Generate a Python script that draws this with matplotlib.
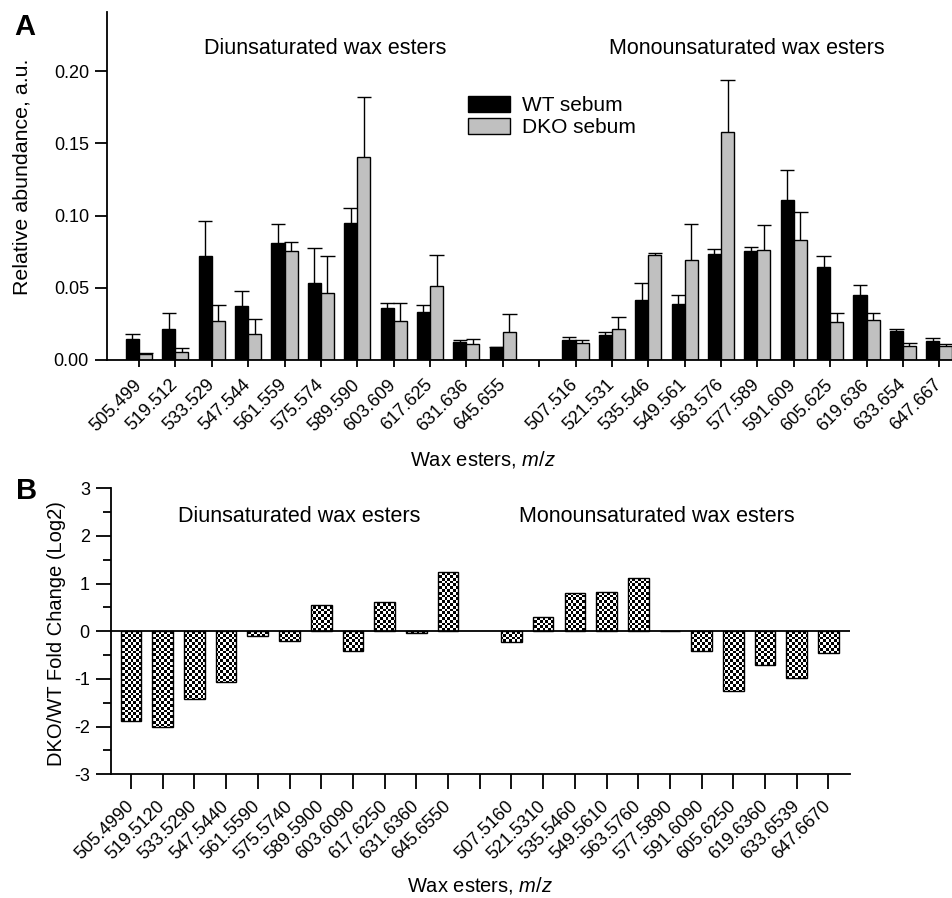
import matplotlib
matplotlib.use("Agg")
import matplotlib.pyplot as plt
import numpy as np
from matplotlib.path import Path
from matplotlib.ticker import MultipleLocator

plt.rcParams.update({
    "font.family": "Liberation Sans",
    "mathtext.fontset": "custom",
    "mathtext.rm": "Liberation Sans",
    "mathtext.it": "Liberation Sans:italic",
    "axes.linewidth": 1.3,
    "axes.unicode_minus": False,
})

# ---- panel A data ----
DI_LABELS = ["505.499", "519.512", "533.529", "547.544", "561.559", "575.574",
             "589.590", "603.609", "617.625", "631.636", "645.655"]
MONO_LABELS = ["507.516", "521.531", "535.546", "549.561", "563.576", "577.589",
               "591.609", "605.625", "619.636", "633.654", "647.667"]
WT_DI = [0.0143, 0.0217, 0.0720, 0.0374, 0.0810, 0.0535, 0.0950, 0.0360, 0.0332, 0.0122, 0.0088]
WT_DI_ERR = [0.0178, 0.0323, 0.0964, 0.0478, 0.0943, 0.0777, 0.1050, 0.0392, 0.0380, 0.0136, 0.0090]
DKO_DI = [0.0040, 0.0053, 0.0270, 0.0178, 0.0757, 0.0466, 0.1407, 0.0270, 0.0514, 0.0113, 0.0196]
DKO_DI_ERR = [0.0048, 0.0083, 0.0380, 0.0284, 0.0820, 0.0722, 0.1820, 0.0397, 0.0730, 0.0145, 0.0316]
WT_MONO = [0.0138, 0.0175, 0.0415, 0.0388, 0.0734, 0.0752, 0.1105, 0.0641, 0.0452, 0.0201, 0.0131]
WT_MONO_ERR = [0.0157, 0.0194, 0.0530, 0.0452, 0.0770, 0.0782, 0.1313, 0.0722, 0.0517, 0.0217, 0.0150]
DKO_MONO = [0.0120, 0.0212, 0.0724, 0.0690, 0.1580, 0.0763, 0.0833, 0.0265, 0.0277, 0.0099, 0.0095]
DKO_MONO_ERR = [0.0138, 0.0298, 0.0743, 0.0941, 0.1940, 0.0937, 0.1024, 0.0327, 0.0327, 0.0120, 0.0113]

# ---- panel B data ----
DI_LABELS_B = ["505.4990", "519.5120", "533.5290", "547.5440", "561.5590", "575.5740",
               "589.5900", "603.6090", "617.6250", "631.6360", "645.6550"]
MONO_LABELS_B = ["507.5160", "521.5310", "535.5460", "549.5610", "563.5760", "577.5890",
                 "591.6090", "605.6250", "619.6360", "633.6539", "647.6670"]
LOG2_DI = [-1.875, -2.01, -1.41, -1.06, -0.09, -0.20, 0.55, -0.41, 0.62, -0.03, 1.24]
LOG2_MONO = [-0.22, 0.29, 0.80, 0.82, 1.11, 0.0, -0.41, -1.25, -0.71, -0.99, -0.46]

W, H = 952, 898
GRAY = "#c0c0c0"


def fx(px):
    return px / W


def fy(py):
    return 1 - py / H


fig = plt.figure(figsize=(W / 100, H / 100), dpi=100)

# ---------------- Panel A ----------------
axA = fig.add_axes([fx(107), fy(360), fx(952 - 107), (360 - 12) / H])
n = len(DI_LABELS)
x_di = np.arange(n)
x_mono = np.arange(n) + n + 1
xs = np.concatenate([x_di, x_mono])
wt = np.array(WT_DI + WT_MONO)
wt_err = np.array(WT_DI_ERR + WT_MONO_ERR)
dko = np.array(DKO_DI + DKO_MONO)
dko_err = np.array(DKO_DI_ERR + DKO_MONO_ERR)

bw = 0.36
off = 0.18
cap = 0.2
axA.vlines(xs - off, wt, wt_err, color="black", lw=1.0, zorder=1)
axA.hlines(wt_err, xs - off - cap, xs - off + cap, color="black", lw=1.0, zorder=1)
axA.vlines(xs + off, dko, dko_err, color="black", lw=1.0, zorder=1)
axA.hlines(dko_err, xs + off - cap, xs + off + cap, color="black", lw=1.0, zorder=1)
b1 = axA.bar(xs - off, wt, bw, color="black", edgecolor="black", lw=1.0, zorder=2,
             label="WT sebum")
b2 = axA.bar(xs + off, dko, bw, color=GRAY, edgecolor="black", lw=1.0, zorder=2,
             label="DKO sebum")

axA.set_xlim(-0.88, 22.35)
axA.set_ylim(0, 0.241)
axA.set_yticks([0, 0.05, 0.10, 0.15, 0.20])
axA.set_yticklabels(["0.00", "0.05", "0.10", "0.15", "0.20"], fontsize=13)
axA.set_xticks(np.arange(2 * n + 1))
axA.set_xticklabels(DI_LABELS + [""] + MONO_LABELS, rotation=45, ha="right",
                    va="center", rotation_mode="anchor", fontsize=13)
axA.tick_params(axis="y", length=9, width=1.3, pad=4)
axA.tick_params(axis="x", length=5, width=1.3, pad=11)
for s in ["top", "right"]:
    axA.spines[s].set_visible(False)

axA.legend(handles=[b1, b2], loc="upper left", bbox_to_anchor=(fx(468), fy(96)),
           bbox_transform=fig.transFigure, frameon=False, fontsize=15,
           handlelength=2.0, handleheight=0.8, handletextpad=0.6,
           labelspacing=0.12, borderpad=0, borderaxespad=0)

fig.text(fx(325), fy(48), "Diunsaturated wax esters", fontsize=15.5, ha="center", va="center")
fig.text(fx(747), fy(48), "Monounsaturated wax esters", fontsize=15.5, ha="center", va="center")
fig.text(fx(22.5), fy(177), "Relative abundance, a.u.", fontsize=15.4, rotation=90,
         ha="center", va="center")
fig.text(fx(483), fy(460), "Wax esters, $\\mathit{m/z}$", fontsize=14.5, ha="center", va="center")
fig.text(fx(14), fy(27), "A", fontsize=21, fontweight="bold", ha="left", va="center")

# ---------------- Panel B ----------------
axB = fig.add_axes([fx(110.7), fy(774.3), fx(850 - 110.7), (774.3 - 488.3) / H])
log2 = np.array(LOG2_DI + LOG2_MONO)
bars = axB.bar(xs, log2, 0.65, facecolor="none", edgecolor="black", lw=1.0, zorder=3)
axB.set_xlim(-0.64, 22.68)
axB.set_ylim(-3, 3)

# checkerboard fill, clipped to the bars
ax_w_px = fx(850 - 110.7) * W
ax_h_px = 286.0
cell = 2.8
nx = int(round(ax_w_px / cell))
ny = int(round(ax_h_px / cell))
checker = (np.add.outer(np.arange(ny), np.arange(nx)) % 2).astype(float)
im = axB.imshow(checker, cmap="gray", extent=(-0.64, 22.68, -3, 3), aspect="auto",
                interpolation="nearest", zorder=2, vmin=0, vmax=1)
paths = [b.get_path().transformed(b.get_patch_transform()) for b in bars]
im.set_clip_path(Path.make_compound_path(*paths), axB.transData)
axB.set_xlim(-0.64, 22.68)
axB.set_ylim(-3, 3)

axB.axhline(0, color="black", lw=1.3, zorder=4)
axB.yaxis.set_major_locator(MultipleLocator(1))
axB.yaxis.set_minor_locator(MultipleLocator(0.5))
axB.tick_params(axis="y", which="major", length=11, width=1.3, labelsize=13, pad=4)
axB.tick_params(axis="y", which="minor", length=6, width=1.3)
axB.set_xticks(np.arange(2 * n + 1))
axB.set_xticklabels(DI_LABELS_B + [""] + MONO_LABELS_B, rotation=45, ha="right",
                    va="center", rotation_mode="anchor", fontsize=13)
axB.tick_params(axis="x", length=11, width=1.3, pad=10)
for s in ["top", "right"]:
    axB.spines[s].set_visible(False)

fig.text(fx(299), fy(517), "Diunsaturated wax esters", fontsize=15.5, ha="center", va="center")
fig.text(fx(657), fy(517), "Monounsaturated wax esters", fontsize=15.5, ha="center", va="center")
fig.text(fx(57), fy(634), "DKO/WT Fold Change (Log2)", fontsize=14.5, rotation=90,
         ha="center", va="center")
fig.text(fx(480), fy(886), "Wax esters, $\\mathit{m/z}$", fontsize=14.5, ha="center", va="center")
fig.text(fx(16), fy(491), "B", fontsize=21, fontweight="bold", ha="left", va="center")

fig.savefig("out.png", dpi=100)
